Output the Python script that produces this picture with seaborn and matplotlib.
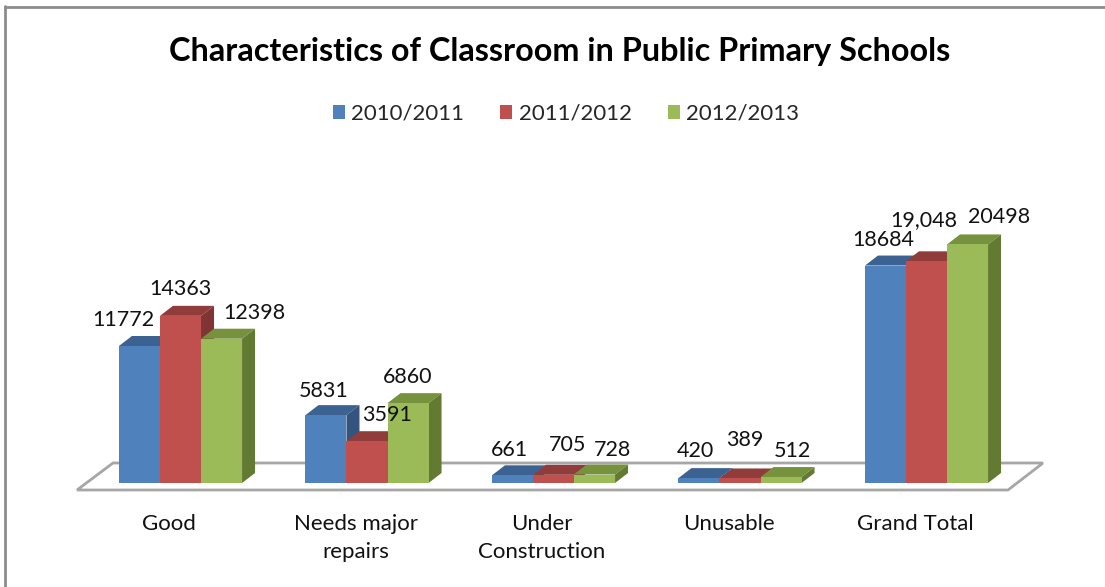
import matplotlib
matplotlib.use("Agg")
import matplotlib.pyplot as plt
from matplotlib.patches import Polygon, Patch
from matplotlib.lines import Line2D
import numpy as np
import pandas as pd
import seaborn as sns

# ---- data -------------------------------------------------------------
categories = ["Good", "Needs major\nrepairs", "Under\nConstruction", "Unusable", "Grand Total"]
years = ["2010/2011", "2011/2012", "2012/2013"]
classrooms_2010_11 = [11772, 5831, 661, 420, 18684]
classrooms_2011_12 = [14363, 3591, 705, 389, 19048]
classrooms_2012_13 = [12398, 6860, 728, 512, 20498]
series = [classrooms_2010_11, classrooms_2011_12, classrooms_2012_13]
# value labels printed with a thousands separator
comma_labels = {(1, 4)}

# ---- styling ----------------------------------------------------------
front_colors = ["#4F81BD", "#C0504D", "#9BBB59"]
top_colors = ["#3C6291", "#8F3C3A", "#76923C"]
side_colors = ["#34547D", "#7E3533", "#637A32"]
# label nudges in pixels (x right, y down) per series
nudge_x = [[-16, -2, -3, -4, -2], [0, 20, 14, 5, -3], [33, 0, 18, 11, 32]]
nudge_y = [[0, 2, 1, -1, 0], [-1, 0, -4, -12, -15], [0, 0, 1, 0, -1]]

W, H = 1105, 587
X0, STEP = 180.5, 186.5      # pixel centre of first group, spacing between groups
BASE, K = 483.0, 0.011638    # pixel row of the zero line, pixels per classroom
DEPTH_X, DEPTH_Y = 13.0, 10.0

sns.set_theme(style="white")
plt.rcParams["font.family"] = ["Lato", "DejaVu Sans"]

fig = plt.figure(figsize=(W / 100, H / 100), dpi=100)
ax = fig.add_axes([0, 0, 1, 1])


def dxp(px):
    return (px - X0) / STEP


def dyp(py):
    return (BASE - py) / K


df = pd.DataFrame({
    "category": categories * len(years),
    "year": np.repeat(years, len(categories)),
    "classrooms": np.concatenate(series),
})

sns.barplot(data=df, x="category", y="classrooms", hue="year",
            order=categories, hue_order=years,
            palette=dict(zip(years, front_colors)), saturation=1,
            width=0.66, linewidth=0, errorbar=None, legend=False,
            ax=ax, zorder=3)

ax.set_xlim(dxp(0), dxp(W))
ax.set_ylim(dyp(H), dyp(0))
ax.axis("off")

# floor of the 3-D plot area
floor = Polygon([(dxp(77), dyp(490)), (dxp(1008), dyp(490)),
                 (dxp(1043), dyp(463)), (dxp(113), dyp(463))],
                closed=True, facecolor="white", edgecolor="#A6A6A6",
                linewidth=2, zorder=1)
ax.add_patch(floor)

ddx = DEPTH_X / STEP
ddy = DEPTH_Y / K
for si, container in enumerate(ax.containers):
    for ci, bar in enumerate(container):
        x0 = bar.get_x()
        w = bar.get_width()
        h = bar.get_height()
        top = Polygon([(x0, h), (x0 + ddx, h + ddy), (x0 + w + ddx, h + ddy), (x0 + w, h)],
                      closed=True, facecolor=top_colors[si], edgecolor="none", zorder=2)
        side = Polygon([(x0 + w, 0), (x0 + w + ddx, ddy), (x0 + w + ddx, h + ddy), (x0 + w, h)],
                       closed=True, facecolor=side_colors[si], edgecolor="none", zorder=2)
        ax.add_patch(top)
        ax.add_patch(side)

        v = series[si][ci]
        text = f"{v:,}" if (si, ci) in comma_labels else f"{v}"
        cx_px = X0 + STEP * (x0 + w / 2) + nudge_x[si][ci]
        cy_px = BASE - v * K - 26 + nudge_y[si][ci]
        ax.text(dxp(cx_px), dyp(cy_px), text, ha="center", va="center",
                fontsize=15.5, color="#111111", zorder=5)

# category names under the floor
for ci, name in enumerate(categories):
    ax.text(ci - 11.5 / STEP, dyp(514), name, ha="center", va="top",
            fontsize=16, color="#111111", linespacing=1.5, zorder=5)

fig.text(560 / W, 1 - 52 / H, "Characteristics of Classroom in Public Primary Schools",
         ha="center", va="center", fontsize=23.3, fontweight="bold", color="black")

handles = [Patch(facecolor=c, edgecolor="none") for c in front_colors]
fig.legend(handles=handles, labels=years, loc="center",
           bbox_to_anchor=(566 / W, 1 - 114 / H), ncol=3, frameon=False,
           fontsize=16, handlelength=0.55, handleheight=0.55,
           handletextpad=0.3, columnspacing=1.6)

# outer chart frame (left and top edges)
fig.add_artist(Line2D([5 / W, 5 / W], [0, 1 - 6 / H], color="#8C8C8C",
                      linewidth=2, transform=fig.transFigure))
fig.add_artist(Line2D([5 / W, 1], [1 - 6.5 / H, 1 - 6.5 / H], color="#8C8C8C",
                      linewidth=2, transform=fig.transFigure))

fig.savefig("out.png", dpi=100)
